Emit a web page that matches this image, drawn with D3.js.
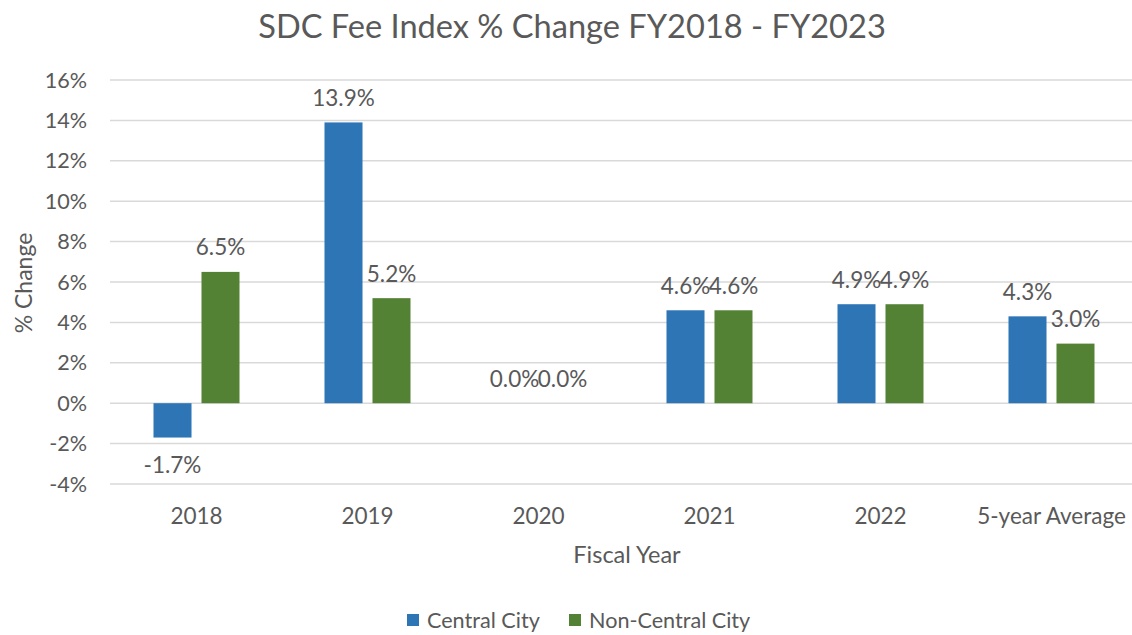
<!DOCTYPE html>
<html><head><meta charset="utf-8">
<script src="https://cdn.jsdelivr.net/npm/d3@7"></script>
<style>
html,body{margin:0;padding:0;background:#fff;}
svg{display:block;font-family:Lato, "Open Sans", sans-serif;}
</style></head>
<body><svg id="c" width="1132" height="635"></svg>
<script>
const categories = ["2018","2019","2020","2021","2022","5-year Average"];
const seriesNames = ["Central City","Non-Central City"];
const centralCity = [-1.7, 13.9, 0.0, 4.6, 4.9, 4.3];
const nonCentralCity = [6.5, 5.2, 0.0, 4.6, 4.9, 2.95];
const yTicks = [-4,-2,0,2,4,6,8,10,12,14,16];
const colors = ["#2E75B6","#548235"];
const textColor = "#595959";

const svg = d3.select("#c");
const x0 = d3.scaleBand().domain(categories).range([111, 1137]).padding(0);
const x1 = d3.scaleBand().domain(seriesNames).range([42.5, 128.5]).paddingInner(0.208).paddingOuter(0);
const y = d3.scaleLinear().domain([-4,16]).range([484, 80]);

// gridlines
svg.append("g").selectAll("line").data(yTicks).join("line")
  .attr("x1",110).attr("x2",1132)
  .attr("y1",d=>y(d)).attr("y2",d=>y(d))
  .attr("stroke","#d9d9d9").attr("stroke-width",1.5);

// y tick labels
svg.append("g").selectAll("text").data(yTicks).join("text")
  .attr("x",87).attr("y",d=>y(d)).attr("dy","0.35em")
  .attr("text-anchor","end").attr("fill",textColor).attr("font-size",21.6)
  .text(d=>d+"%");

const data = categories.map((c,i)=>({cat:c, vals:[
  {s:seriesNames[0], v:centralCity[i], c:colors[0]},
  {s:seriesNames[1], v:nonCentralCity[i], c:colors[1]}]}));

const g = svg.append("g").selectAll("g").data(data).join("g")
  .attr("transform",d=>`translate(${x0(d.cat)},0)`);
g.selectAll("rect").data(d=>d.vals).join("rect")
  .attr("x",d=>x1(d.s)).attr("width",x1.bandwidth())
  .attr("y",d=>y(Math.max(0,d.v))).attr("height",d=>Math.abs(y(d.v)-y(0)))
  .attr("fill",d=>d.c);
const fmt = d3.formatLocale({decimal:".",thousands:",",grouping:[3],currency:["",""],minus:"-"}).format(".1f");
g.selectAll("text").data(d=>d.vals).join("text")
  .attr("x",d=>x1(d.s)+x1.bandwidth()/2)
  .attr("y",d=> d.v<0 ? y(d.v)+28 : y(d.v)-24.5)
  .attr("dy","0.35em").attr("text-anchor","middle")
  .attr("fill",textColor).attr("font-size",22.5)
  .text(d=>fmt(d.v)+"%");

// x labels
svg.append("g").selectAll("text").data(categories).join("text")
  .attr("x",d=>x0(d)+x0.bandwidth()/2).attr("y",516).attr("dy","0.35em")
  .attr("text-anchor","middle").attr("fill",textColor).attr("font-size",22.5)
  .text(d=>d);

// title
svg.append("text").attr("x",572).attr("y",27).attr("dy","0.35em")
  .attr("text-anchor","middle").attr("fill",textColor).attr("font-size",32.6)
  .text("SDC Fee Index % Change FY2018 - FY2023");
// axis titles
svg.append("text").attr("x",627).attr("y",555).attr("dy","0.35em")
  .attr("text-anchor","middle").attr("fill",textColor).attr("font-size",23.5)
  .text("Fiscal Year");
svg.append("text").attr("transform","translate(24,283) rotate(-90)").attr("dy","0.35em")
  .attr("text-anchor","middle").attr("fill",textColor).attr("font-size",23)
  .text("% Change");

// legend
const legX = [407, 569];
const lg = svg.append("g").selectAll("g").data(seriesNames).join("g")
  .attr("transform",(d,i)=>`translate(${legX[i]},620)`);
lg.append("rect").attr("x",0).attr("y",-6).attr("width",12).attr("height",12)
  .attr("fill",(d,i)=>colors[i]);
lg.append("text").attr("x",20).attr("y",0).attr("dy","0.35em")
  .attr("fill",textColor).attr("font-size",21.6).text(d=>d);
</script></body></html>
